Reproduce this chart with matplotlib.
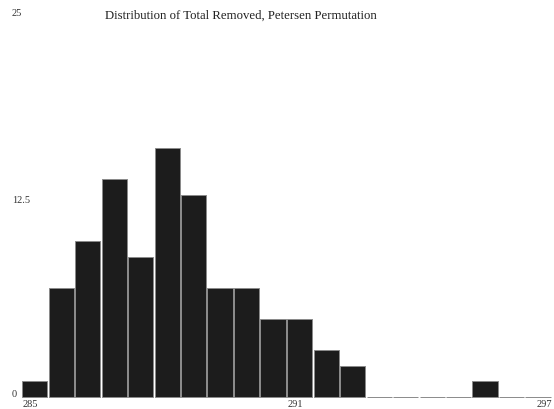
import matplotlib
matplotlib.use("Agg")
import matplotlib.pyplot as plt
import numpy as np

# Histogram of total removed, 20 bins of width 0.6 between 285 and 297
bin_start = 285.0
bin_width = 0.6
counts = [1, 7, 10, 14, 9, 16, 13, 7, 7, 5, 5, 3, 2, 0, 0, 0, 0, 1, 0, 0]
x_ticks = [285, 291, 297]
y_ticks = [0, 12.5, 25]
y_tick_labels = ["0", "12.5", "25"]
title = "Distribution of Total Removed, Petersen Permutation"

plt.rcParams["font.family"] = ["Liberation Serif", "DejaVu Serif"]

fig = plt.figure(figsize=(5.54, 4.10), dpi=100)
W, H = 554, 410
ax = fig.add_axes([22 / W, 1 - 398 / H, 530 / W, (398 - 9) / H])

lefts = bin_start + bin_width * np.arange(len(counts))
bars = ax.bar(lefts, counts, width=bin_width * 0.96, align="edge",
              color="#1c1c1c", edgecolor="#8a8a8a", linewidth=0.7)
for b in bars:
    b.set_clip_on(False)

ax.set_xlim(285, 297)
ax.set_ylim(0, 25)
for s in ax.spines.values():
    s.set_visible(False)
ax.set_xticks([])
ax.set_yticks([])

# tick labels
trans_x = ax.get_xaxis_transform()
for v, ha in zip(x_ticks, ["left", "left", "right"]):
    ax.text(v if ha != "left" else v + 0.02, -0.004, str(v),
            transform=trans_x, ha=ha, va="top",
            fontsize=7.5, color="#333333")

for v, lab in zip(y_ticks, y_tick_labels):
    yd = ax.transData.transform((285, v))[1]
    yf = yd / H + (3 / H if v < 25 else -4 / H)
    fig.text(12 / W, yf, lab, ha="left", va="center",
             fontsize=7.5, color="#333333")

fig.text(241 / W, 1 - 16 / H, title, ha="center", va="center",
         fontsize=9.2, color="#222222")

fig.savefig("out.png", dpi=100)
